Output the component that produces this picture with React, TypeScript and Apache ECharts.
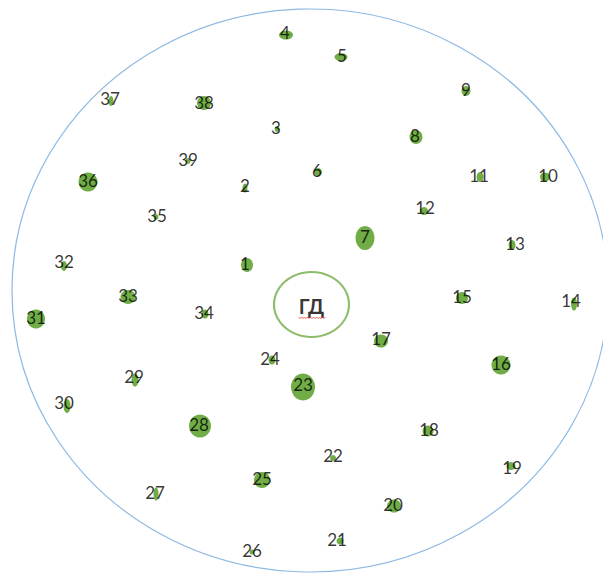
import React, { useEffect, useRef } from "react";
import * as echarts from "echarts";

const ids = [1,2,3,4,5,6,7,8,9,10,11,12,13,14,15,16,17,18,19,20,21,22,23,24,25,26,27,28,29,30,31,32,33,34,35,36,37,38,39];
const bubbleX = [247,245,277,286,341,318,365,416,466,545,480,424,512,574,462,501,381,428,511,394,340,333,303,272,262,252,156,200,135,67,36,64,128,205,156,88,111,204,188];
const bubbleY = [265,188,129,35,57,172,238,137,91,177,177,211,245,304,298,365,341,431,466,506,541,458,387,360,480,552,494,426,380,406,319,266,297,314,217,182,101,103,161];
const bubbleW = [12,5,5,14,13,8,19,13,9,10,7,8,7,6,12,19,14,11,9,14,7,6,24,7,16,5,5,22,7,7,18,6,15,7,5,19,5,14,5];
const bubbleH = [14,9,6,9,8,8,24,14,10,9,10,8,10,13,12,19,13,11,8,13,7,6,27,9,16,5,13,23,13,14,19,10,14,9,6,19,10,14,6];
const labelX = [245,245,276,285,342,317,365,415,466,548,479,425,515,571,462,501,381,429,512,393,337,333,303,270,262,252,155,199,134,64,36,64,128,204,157,88,110,204,188];
const labelY = [265,187,129,34,57,172,238,137,91,177,177,209,245,302,298,365,340,431,469,506,541,457,386,360,480,552,494,426,378,404,319,263,297,314,217,182,100,104,161];

const outerCircle = { x: 310, y: 290.5, w: 596, h: 563 };
const centerNode = { x: 311.5, y: 304.5, w: 75, h: 65, name: "ГД" };

export default function App() {
  const ref = useRef<HTMLDivElement>(null);
  useEffect(() => {
    if (!ref.current) return;
    const chart = echarts.init(ref.current, null, { renderer: "svg" });
    const bubbles = ids.map((id, i) => ({
      value: [bubbleX[i], bubbleY[i]],
      symbolSize: [bubbleW[i], bubbleH[i]],
    }));
    const labels = ids.map((id, i) => ({ value: [labelX[i], labelY[i]], name: String(id) }));
    const squiggle: number[][] = [];
    for (let k = 0; k <= 18; k++) {
      squiggle.push([centerNode.x - 13 + k * 1.5, centerNode.y + 12.5 + (k % 2 === 0 ? 0 : 1.6)]);
    }
    chart.setOption({
      animation: false,
      grid: { left: 0, right: 0, top: 0, bottom: 0 },
      xAxis: { type: "value", min: 0, max: 603, show: false },
      yAxis: { type: "value", min: 0, max: 574, inverse: true, show: false },
      graphic: [
        {
          type: "polyline",
          shape: { points: squiggle },
          style: { stroke: "#E8433A", lineWidth: 0.8, fill: null },
          z: 100,
        },
      ],
      series: [
        {
          type: "scatter",
          clip: false,
          silent: true,
          data: [{ value: [outerCircle.x, outerCircle.y], symbolSize: [outerCircle.w, outerCircle.h] }],
          symbol: "circle",
          itemStyle: { color: "rgba(0,0,0,0)", borderColor: "#6FA8DC", borderWidth: 1.2 },
          z: 1,
        },
        {
          type: "scatter",
          clip: false,
          silent: true,
          data: [{ value: [centerNode.x, centerNode.y], symbolSize: [centerNode.w, centerNode.h], name: centerNode.name }],
          symbol: "circle",
          itemStyle: { color: "#ffffff", borderColor: "#70AD47", borderWidth: 2 },
          label: {
            show: true,
            position: "inside",
            formatter: "{b}",
            color: "#000",
            fontFamily: "Lato",
            fontWeight: "bold",
            fontSize: 20,
            offset: [0, 1],
          },
          z: 2,
        },
        {
          type: "scatter",
          clip: false,
          silent: true,
          symbol: "circle",
          data: bubbles,
          itemStyle: { color: "#70AD47", opacity: 1 },
          z: 3,
        },
        {
          type: "scatter",
          clip: false,
          silent: true,
          symbolSize: 0,
          data: labels,
          label: {
            show: true,
            position: "inside",
            formatter: "{b}",
            color: "#000",
            fontFamily: "Lato",
            fontSize: 17,
            offset: [0, -1.5],
          },
          z: 4,
        },
      ],
    });
    return () => chart.dispose();
  }, []);
  return (
    <div
      ref={ref}
      style={{ position: "absolute", left: 0, top: 0, width: 603, height: 574, background: "#fff" }}
    />
  );
}
